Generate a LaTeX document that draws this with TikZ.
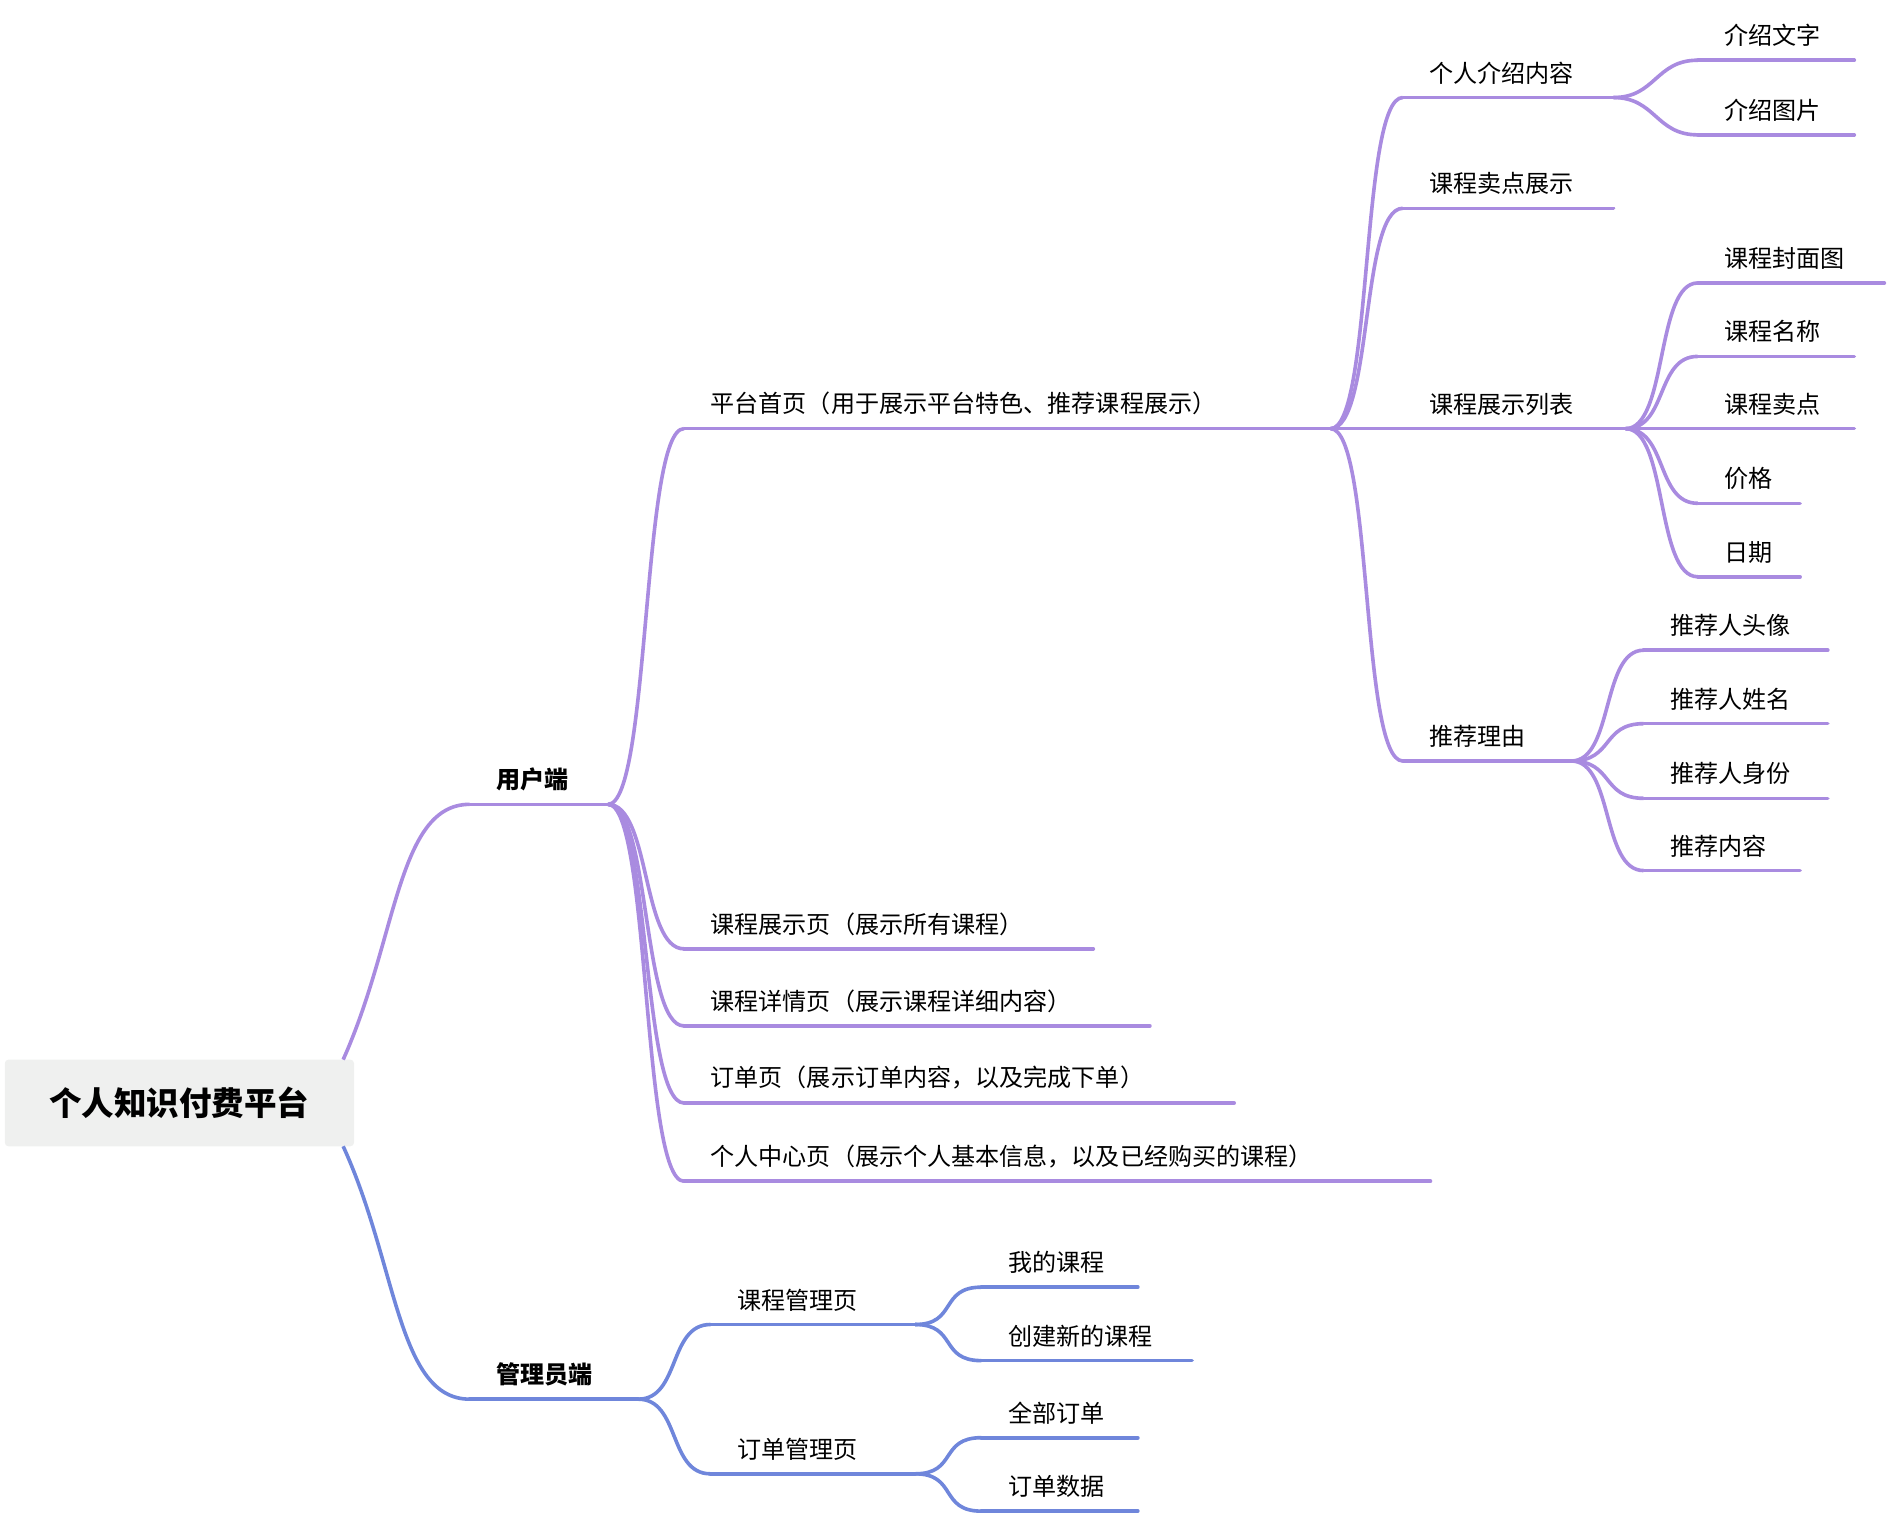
\documentclass[tikz,border=0pt]{standalone}
\usepackage{fontspec}
\setmainfont{Noto Sans CJK SC}
\definecolor{purp}{HTML}{A98BE0}
\definecolor{blu}{HTML}{6F86DB}
\definecolor{rootbg}{HTML}{EFF0EF}
\newcommand{\branch}[6]{%
	\coordinate (#1-s) at (#2,#4);
	\coordinate (#1-e) at (#3,#4);
	\draw[#6,line width=3pt,line cap=round] (#1-s) -- (#1-e);
	\node[lbl] (#1) at (#2+22,#4-11) {#5};
}
\begin{document}
\begin{tikzpicture}[x=1pt,y=-1pt]
	\tikzstyle{lbl}=[anchor=south west,inner sep=0pt,font=\fontsize{20}{24}\selectfont]
	\tikzstyle{pl}=[draw=purp,line width=3pt]
	\tikzstyle{bl}=[draw=blu,line width=3pt]
	\useasboundingbox (0,0) rectangle (1568,1262);
	
	% root
	\node[fill=rootbg,rounded corners=3pt,minimum width=290pt,minimum height=72pt,font=\fontsize{27}{30}\selectfont\bfseries](root) at (149,916){个人知识付费平台};
	
	\branch{user}{390}{505}{668}{\textbf{用户端}}{purp}
	\branch{admin}{390}{530}{1162}{\textbf{管理员端}}{blu}
	\draw[pl] (285,880) .. controls (330,780) and (330,668) .. (user-s);
	\draw[bl] (285,952) .. controls (330,1050) and (330,1162) .. (admin-s);
	
	% user side
	\branch{home}{568}{1105}{356}{平台首页（用于展示平台特色、推荐课程展示）}{purp}
	\branch{list}{568}{908}{788}{课程展示页（展示所有课程）}{purp}
	\branch{detail}{568}{955}{852}{课程详情页（展示课程详细内容）}{purp}
	\branch{order}{568}{1025}{916}{订单页（展示订单内容，以及完成下单）}{purp}
	\branch{center}{568}{1188}{981}{个人中心页（展示个人基本信息，以及已经购买的课程）}{purp}
	\foreach \c in {home,list,detail,order,center}
		\draw[pl] (user-e) .. controls +(35,0) and +(-35,0) .. (\c-s);
	
	\branch{intro}{1165}{1340}{81}{个人介绍内容}{purp}
	\branch{sell}{1165}{1340}{173}{课程卖点展示}{purp}
	\branch{clist}{1165}{1350}{356}{课程展示列表}{purp}
	\branch{reason}{1165}{1305}{632}{推荐理由}{purp}
	\foreach \c in {intro,sell,clist,reason}
		\draw[pl] (home-e) .. controls +(35,0) and +(-35,0) .. (\c-s);
	
	\branch{itext}{1410}{1540}{50}{介绍文字}{purp}
	\branch{ipic}{1410}{1540}{112}{介绍图片}{purp}
	\foreach \c in {itext,ipic}
		\draw[pl] (intro-e) .. controls +(35,0) and +(-35,0) .. (\c-s);
	
	\branch{cover}{1410}{1565}{235}{课程封面图}{purp}
	\branch{cname}{1410}{1540}{296}{课程名称}{purp}
	\branch{csell}{1410}{1540}{356}{课程卖点}{purp}
	\branch{price}{1410}{1495}{418}{价格}{purp}
	\branch{date}{1410}{1495}{479}{日期}{purp}
	\foreach \c in {cover,cname,csell,price,date}
		\draw[pl] (clist-e) .. controls +(35,0) and +(-35,0) .. (\c-s);
	
	\branch{avatar}{1365}{1518}{540}{推荐人头像}{purp}
	\branch{rname}{1365}{1518}{601}{推荐人姓名}{purp}
	\branch{rid}{1365}{1518}{663}{推荐人身份}{purp}
	\branch{rtext}{1365}{1495}{723}{推荐内容}{purp}
	\foreach \c in {avatar,rname,rid,rtext}
		\draw[pl] (reason-e) .. controls +(35,0) and +(-35,0) .. (\c-s);
	
	% admin side
	\branch{cman}{590}{760}{1100}{课程管理页}{blu}
	\branch{oman}{590}{760}{1224}{订单管理页}{blu}
	\foreach \c in {cman,oman}
		\draw[bl] (admin-e) .. controls +(35,0) and +(-35,0) .. (\c-s);
	
	\branch{mine}{815}{945}{1069}{我的课程}{blu}
	\branch{newc}{815}{990}{1130}{创建新的课程}{blu}
	\foreach \c in {mine,newc}
		\draw[bl] (cman-e) .. controls +(35,0) and +(-35,0) .. (\c-s);
	
	\branch{allo}{815}{945}{1194}{全部订单}{blu}
	\branch{odata}{815}{945}{1255}{订单数据}{blu}
	\foreach \c in {allo,odata}
		\draw[bl] (oman-e) .. controls +(35,0) and +(-35,0) .. (\c-s);
\end{tikzpicture}
\end{document}
